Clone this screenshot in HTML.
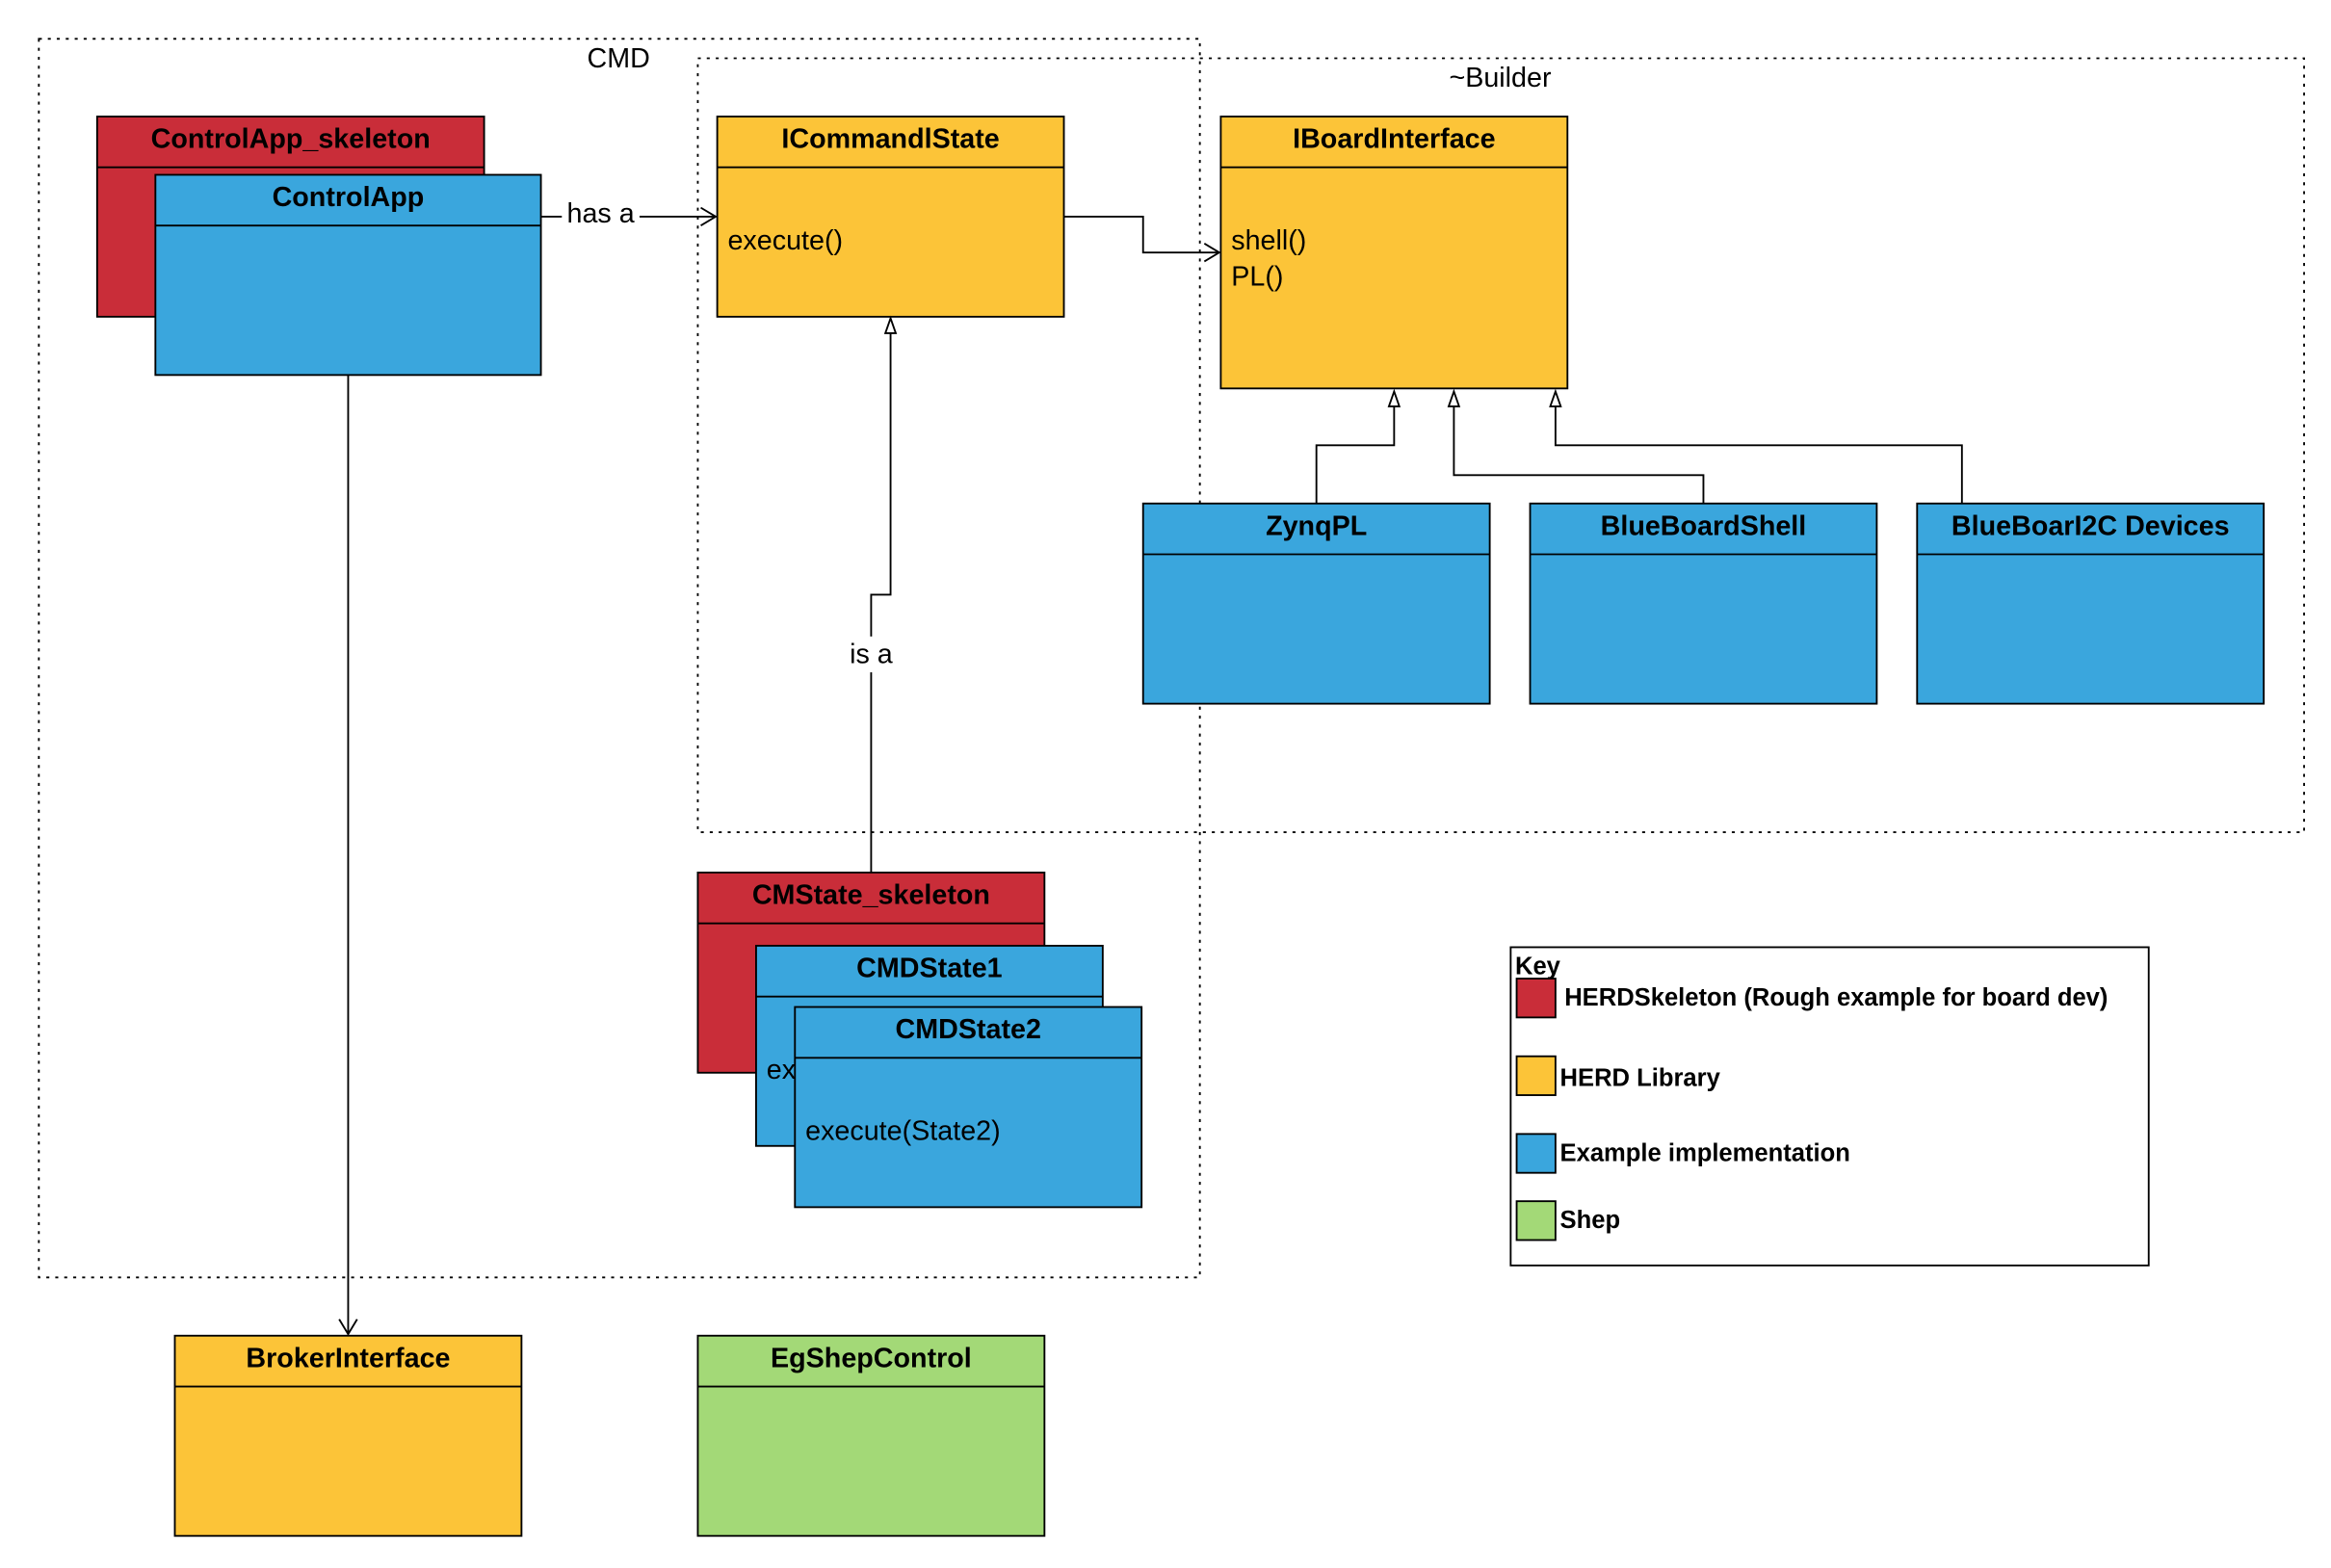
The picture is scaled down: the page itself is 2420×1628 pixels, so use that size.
<!DOCTYPE html>
<html><head><meta charset="utf-8"><style>
html,body{margin:0;padding:0;background:#fff;width:2420px;height:1628px;overflow:hidden}
svg{display:block}
text{font-family:"Liberation Sans",sans-serif;fill:#000}
.t{font-weight:bold;font-size:18.5px;text-anchor:middle}
.b{font-size:18.5px}
.k{font-weight:bold;font-size:16.5px}
.box{stroke:#000;stroke-width:1.2}
.ln{stroke:#000;stroke-width:1.2;fill:none}
.dot{stroke:#000;stroke-width:1.2;fill:none;stroke-dasharray:2 4}
</style></head><body>
<svg width="2420" height="1628" viewBox="0 0 1560 1049.5" preserveAspectRatio="none" xmlns="http://www.w3.org/2000/svg">
<rect width="1560" height="1050" fill="#fff"/>
<!-- containers -->
<rect class="dot" x="26" y="26" width="777" height="829"/>
<text class="b" x="414" y="45" text-anchor="middle">CMD</text>
<rect class="dot" x="467" y="39" width="1075" height="518"/>
<text class="b" x="1004" y="58" text-anchor="middle">~Builder</text>

<!-- ControlApp_skeleton -->
<rect class="box" x="65" y="78" width="259" height="134" fill="#C92D39"/>
<line class="ln" x1="65" y1="112" x2="324" y2="112"/>
<text class="t" x="194.5" y="99">ControlApp_skeleton</text>
<!-- ControlApp -->
<rect class="box" x="104" y="117" width="258" height="134" fill="#3AA6DD"/>
<line class="ln" x1="104" y1="151" x2="362" y2="151"/>
<text class="t" x="233" y="138">ControlApp</text>

<!-- ICommandlState -->
<rect class="box" x="480" y="78" width="232" height="134" fill="#FCC438"/>
<line class="ln" x1="480" y1="112" x2="712" y2="112"/>
<text class="t" x="596" y="99">ICommandlState</text>
<text class="b" x="487" y="167">execute()</text>

<!-- IBoardInterface -->
<rect class="box" x="817" y="78" width="232" height="182" fill="#FCC438"/>
<line class="ln" x1="817" y1="112" x2="1049" y2="112"/>
<text class="t" x="933" y="99">IBoardInterface</text>
<text class="b" x="824" y="167">shell()</text>
<text class="b" x="824" y="191">PL()</text>

<!-- implementations -->
<rect class="box" x="765" y="337" width="232" height="134" fill="#3AA6DD"/>
<line class="ln" x1="765" y1="371" x2="997" y2="371"/>
<text class="t" x="881" y="358">ZynqPL</text>
<rect class="box" x="1024" y="337" width="232" height="134" fill="#3AA6DD"/>
<line class="ln" x1="1024" y1="371" x2="1256" y2="371"/>
<text class="t" x="1140" y="358">BlueBoardShell</text>
<rect class="box" x="1283" y="337" width="232" height="134" fill="#3AA6DD"/>
<line class="ln" x1="1283" y1="371" x2="1515" y2="371"/>
<text class="t" x="1399" y="358">BlueBoarI2C Devices</text>

<!-- CMState stack -->
<rect class="box" x="467" y="584" width="232" height="134" fill="#C92D39"/>
<line class="ln" x1="467" y1="618" x2="699" y2="618"/>
<text class="t" x="583" y="605">CMState_skeleton</text>
<rect class="box" x="506" y="633" width="232" height="134" fill="#3AA6DD"/>
<line class="ln" x1="506" y1="667" x2="738" y2="667"/>
<text class="t" x="622" y="654">CMDState1</text>
<text class="b" x="513" y="722">execute(State1)</text>
<rect class="box" x="532" y="674" width="232" height="134" fill="#3AA6DD"/>
<line class="ln" x1="532" y1="708" x2="764" y2="708"/>
<text class="t" x="648" y="695">CMDState2</text>
<text class="b" x="539" y="763">execute(State2)</text>

<!-- bottom -->
<rect class="box" x="117" y="894" width="232" height="134" fill="#FCC438"/>
<line class="ln" x1="117" y1="928" x2="349" y2="928"/>
<text class="t" x="233" y="915">BrokerInterface</text>
<rect class="box" x="467" y="894" width="232" height="134" fill="#A3D977"/>
<line class="ln" x1="467" y1="928" x2="699" y2="928"/>
<text class="t" x="583" y="915">EgShepControl</text>

<!-- connectors -->
<polyline class="ln" points="362,145 479,145"/>
<polyline class="ln" points="469,139 479,145 469,151"/>
<rect x="376" y="132" width="52" height="22" fill="#fff"/>
<text class="b" x="402" y="149" text-anchor="middle">has a</text>

<polyline class="ln" points="712,145 765,145 765,169 816,169"/>
<polyline class="ln" points="806,163 816,169 806,175"/>

<polyline class="ln" points="583,584 583,398 596,398 596,222"/>
<polygon points="596,213 592.5,223 599.5,223" fill="#fff" stroke="#000" stroke-width="1.2"/>
<rect x="562" y="426" width="42" height="24" fill="#fff"/>
<text class="b" x="583" y="444" text-anchor="middle">is a</text>

<polyline class="ln" points="233,251 233,893"/>
<polyline class="ln" points="227,883 233,893 239,883"/>

<polyline class="ln" points="881,337 881,298 933,298 933,271"/>
<polygon points="933,262 929.5,272 936.5,272" fill="#fff" stroke="#000" stroke-width="1.2"/>
<polyline class="ln" points="1140,337 1140,318 973,318 973,271"/>
<polygon points="973,262 969.5,272 976.5,272" fill="#fff" stroke="#000" stroke-width="1.2"/>
<polyline class="ln" points="1313,337 1313,298 1041,298 1041,271"/>
<polygon points="1041,262 1037.5,272 1044.5,272" fill="#fff" stroke="#000" stroke-width="1.2"/>

<!-- key -->
<rect class="box" x="1011" y="634" width="427" height="213" fill="#fff"/>
<text class="k" x="1014" y="652">Key</text>
<rect class="box" x="1015" y="655" width="26" height="26" fill="#C92D39"/>
<text class="k" x="1047" y="673">HERDSkeleton (Rough example for board dev)</text>
<rect class="box" x="1015" y="707" width="26" height="26" fill="#FCC438"/>
<text class="k" x="1044" y="727">HERD Library</text>
<rect class="box" x="1015" y="759" width="26" height="26" fill="#3AA6DD"/>
<text class="k" x="1044" y="777">Example implementation</text>
<rect class="box" x="1015" y="804" width="26" height="26" fill="#A3D977"/>
<text class="k" x="1044" y="822">Shep</text>
</svg>
</body></html>
